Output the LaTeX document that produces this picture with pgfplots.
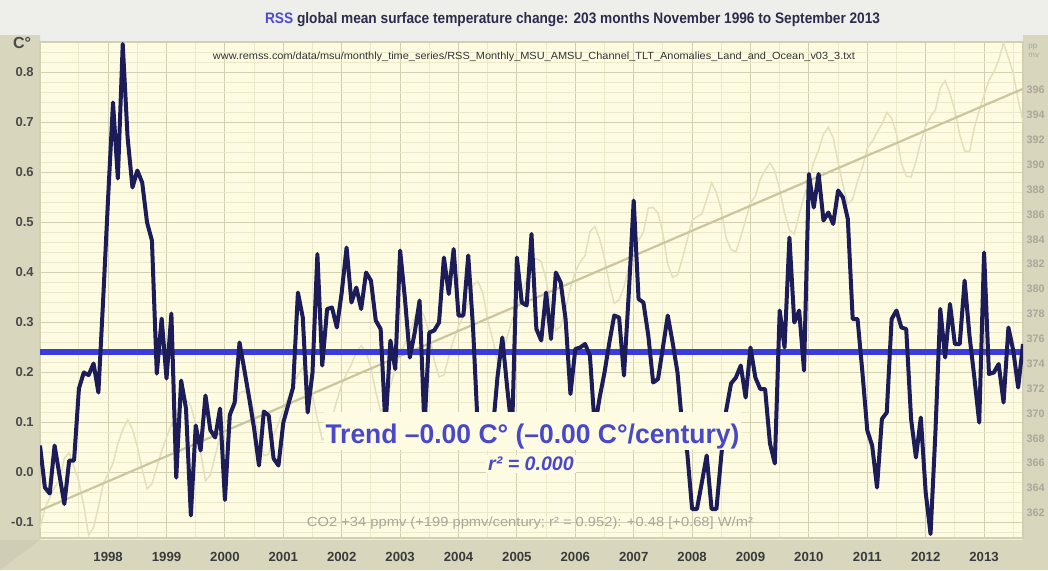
\documentclass[border=0pt]{standalone}
\usepackage{pgfplots}
\pgfplotsset{compat=1.18}
\usepackage{pgfplotstable}
\usepackage{graphicx}
\usepackage{fontspec}
\setmainfont{Liberation Sans}
\definecolor{outerbg}{HTML}{EEEEEA}
\definecolor{strip}{HTML}{D9D6BE}
\definecolor{plotbg}{HTML}{FDFCE2}
\definecolor{gridmaj}{HTML}{D3D0B2}
\definecolor{gridmin}{HTML}{ECE9CA}
\definecolor{navy}{HTML}{1C1C58}
\definecolor{trendblue}{HTML}{3C3CDA}
\definecolor{textblue}{HTML}{4848C8}
\definecolor{rssblue}{HTML}{4C4CD0}
\definecolor{titlec}{HTML}{2C2C4C}
\definecolor{co2trend}{HTML}{CBC6A0}
\definecolor{co2line}{HTML}{E3E0BE}
\definecolor{co2text}{HTML}{A8A79A}
\definecolor{ticklab}{HTML}{4A4A4A}

\pgfplotstableread{
i v
0 0.054
1 -0.030
2 -0.042
3 0.054
4 -0.005
5 -0.063
6 0.024
7 0.024
8 0.168
9 0.200
10 0.195
11 0.218
12 0.160
13 0.350
14 0.550
15 0.740
16 0.588
17 0.857
18 0.670
19 0.570
20 0.604
21 0.580
22 0.500
23 0.464
24 0.198
25 0.308
26 0.188
27 0.318
28 -0.010
29 0.184
30 0.128
31 -0.086
32 0.094
33 0.044
34 0.154
35 0.085
36 0.070
37 0.128
38 -0.055
39 0.115
40 0.140
41 0.260
42 0.205
43 0.148
44 0.088
45 0.014
46 0.122
47 0.114
48 0.028
49 0.014
50 0.100
51 0.135
52 0.170
53 0.360
54 0.310
55 0.120
56 0.200
57 0.437
58 0.214
59 0.327
60 0.330
61 0.290
62 0.360
63 0.450
64 0.340
65 0.370
66 0.327
67 0.400
68 0.384
69 0.304
70 0.287
71 0.090
72 0.264
73 0.207
74 0.444
75 0.347
76 0.230
77 0.280
78 0.344
79 0.090
80 0.280
81 0.284
82 0.300
83 0.430
84 0.357
85 0.447
86 0.314
87 0.314
88 0.434
89 0.287
90 0.080
91 0.060
92 0.070
93 0.080
94 0.190
95 0.270
96 0.170
97 0.080
98 0.430
99 0.340
100 0.334
101 0.477
102 0.287
103 0.264
104 0.360
105 0.267
106 0.400
107 0.380
108 0.307
109 0.157
110 0.247
111 0.250
112 0.257
113 0.234
114 0.090
115 0.150
116 0.200
117 0.260
118 0.314
119 0.310
120 0.194
121 0.360
122 0.544
123 0.347
124 0.340
125 0.274
126 0.180
127 0.187
128 0.250
129 0.314
130 0.260
131 0.200
132 0.090
133 0.040
134 -0.073
135 -0.073
136 -0.020
137 0.034
138 -0.073
139 -0.073
140 0.034
141 0.124
142 0.178
143 0.190
144 0.214
145 0.150
146 0.250
147 0.190
148 0.167
149 0.167
150 0.058
151 0.018
152 0.324
153 0.250
154 0.470
155 0.300
156 0.324
157 0.204
158 0.597
159 0.530
160 0.597
161 0.504
162 0.520
163 0.497
164 0.564
165 0.550
166 0.507
167 0.307
168 0.307
169 0.200
170 0.084
171 0.054
172 -0.030
173 0.107
174 0.120
175 0.307
176 0.324
177 0.290
178 0.287
179 0.107
180 0.030
181 0.110
182 -0.040
183 -0.123
184 0.080
185 0.327
186 0.230
187 0.337
188 0.257
189 0.257
190 0.384
191 0.274
192 0.190
193 0.100
194 0.440
195 0.197
196 0.200
197 0.217
198 0.140
199 0.290
200 0.244
201 0.170
202 0.257
}\rss

\pgfplotstableread{
i c
0 360.80
1 362.38
2 363.23
3 364.06
4 364.61
5 366.40
6 366.84
7 365.68
8 364.52
9 362.57
10 360.24
11 360.83
12 362.49
13 364.34
14 365.16
15 365.98
16 367.56
17 368.69
18 369.49
19 368.74
20 367.32
21 365.52
22 363.93
23 364.34
24 365.64
25 366.98
26 368.06
27 369.11
28 369.73
29 370.85
30 371.13
31 370.59
32 369.17
33 366.92
34 364.58
35 365.04
36 366.61
37 368.14
38 369.19
39 369.75
40 370.52
41 371.66
42 371.79
43 371.51
44 370.11
45 368.07
46 366.62
47 366.73
48 368.23
49 369.20
50 370.32
51 371.29
52 372.23
53 373.11
54 373.73
55 373.09
56 371.47
57 369.56
58 367.89
59 368.12
60 369.56
61 371.03
62 372.32
63 373.20
64 373.95
65 374.97
66 375.44
67 374.91
68 373.71
69 371.71
70 370.20
71 370.60
72 372.20
73 373.65
74 374.87
75 375.62
76 376.48
77 377.74
78 378.47
79 377.76
80 376.45
81 374.29
82 372.94
83 373.10
84 374.59
85 375.92
86 377.00
87 377.87
88 378.88
89 380.35
90 380.62
91 379.69
92 377.47
93 376.01
94 374.25
95 374.46
96 376.16
97 377.51
98 378.46
99 379.73
100 380.77
101 382.29
102 382.45
103 382.21
104 380.74
105 378.74
106 376.70
107 377.00
108 378.35
109 380.11
110 381.38
111 382.19
112 382.67
113 384.61
114 385.03
115 384.05
116 382.46
117 380.41
118 378.85
119 379.13
120 380.15
121 381.82
122 382.89
123 383.90
124 384.58
125 386.50
126 386.56
127 386.10
128 384.50
129 381.99
130 380.96
131 381.12
132 382.45
133 383.95
134 385.52
135 385.82
136 386.03
137 387.21
138 388.54
139 387.76
140 386.36
141 384.09
142 383.18
143 382.99
144 384.19
145 385.56
146 386.94
147 387.48
148 388.82
149 389.55
150 390.14
151 389.48
152 388.03
153 386.11
154 384.74
155 384.43
156 386.02
157 387.42
158 388.71
159 390.20
160 391.17
161 392.46
162 393.00
163 392.15
164 390.20
165 388.35
166 386.85
167 387.24
168 388.67
169 389.79
170 391.33
171 391.86
172 392.60
173 393.25
174 394.19
175 393.74
176 392.51
177 390.13
178 389.08
179 389.00
180 390.28
181 391.86
182 393.12
183 393.86
184 394.40
185 396.18
186 396.74
187 395.71
188 394.36
189 392.39
190 391.11
191 391.05
192 392.98
193 394.34
194 395.55
195 396.80
196 397.43
197 398.41
198 399.78
199 398.60
200 397.32
201 395.20
202 393.45
}\cotwo

\pgfplotsset{
  base/.style={
    at={(20pt,16pt)}, anchor=south west,
    width=491.5pt, height=248pt, scale only axis,
    xmin=0, xmax=202,
  },
  tempy/.style={ymin=-0.131, ymax=0.861},
}

\begin{document}
\begin{tikzpicture}
\useasboundingbox (0,0) rectangle (524pt,285pt);
% outer frame
\fill[outerbg] (0,0) rectangle (524pt,285pt);
\fill[strip] (0,0) -- (524pt,0) -- (524pt,267.5pt) -- (511.5pt,267.5pt) -- (511.5pt,15pt) -- (20pt,15pt) -- (20pt,267.5pt) -- (0,267.5pt) -- cycle;
\fill[strip!85!black,opacity=0.25] (0,0) -- (20pt,15pt) -- (0,15pt) -- cycle;

% axis 1: background, grid and tick labels
\begin{axis}[base, tempy,
  axis background/.style={fill=plotbg},
  axis line style={draw=gridmaj, line width=0.6pt},
  xtick={14,26,38,50,62,74,86,98,110,122,134,146,158,170,182,194},
  xticklabels={1998,1999,2000,2001,2002,2003,2004,2005,2006,2007,2008,2009,2010,2011,2012,2013},
  minor xtick={8,20,32,44,56,68,80,92,104,116,128,140,152,164,176,188,200},
  ytick={-0.1,0,0.1,0.2,0.3,0.4,0.5,0.6,0.7,0.8},
  yticklabels={-0.1,0.0,0.1,0.2,0.3,0.4,0.5,0.6,0.7,0.8},
  minor ytick={-0.12,-0.08,-0.06,-0.04,-0.02,0.02,0.04,0.06,0.08,0.12,0.14,0.16,0.18,0.22,0.24,0.26,0.28,0.32,0.34,0.36,0.38,0.42,0.44,0.46,0.48,0.52,0.54,0.56,0.58,0.62,0.64,0.66,0.68,0.72,0.74,0.76,0.78,0.82,0.84},
  grid=both,
  major grid style={draw=gridmaj, line width=0.55pt},
  minor grid style={draw=gridmin, line width=0.45pt},
  major tick length=0pt, minor tick length=0pt,
  xticklabel style={font=\bfseries\fontsize{6.6}{7}\selectfont, text=ticklab!80!black, anchor=center, inner sep=0pt, yshift=-9.5pt},
  yticklabel style={font=\bfseries\fontsize{6.5}{7}\selectfont, text=ticklab, anchor=east, inner sep=0pt, xshift=-3pt},
]
\addplot[draw=none] coordinates {(0,0)};
\end{axis}

% axis 2: CO2 on right axis
\begin{axis}[base,
  ymin=359.99, ymax=399.86,
  axis y line*=right, axis x line=none,
  axis line style={draw=none},
  ytick={362,364,...,396},
  major tick length=0pt,
  yticklabel style={font=\bfseries\fontsize{5.4}{6}\selectfont, text=co2text, anchor=west, inner sep=0pt, xshift=1.6pt},
  /pgf/number format/assume math mode=true,
  clip=true,
]
\addplot[co2line, line width=0.75pt] table[x=i, y=c] {\cotwo};
\addplot[co2trend, line width=1.1pt] coordinates {(0,362.2) (202,396.1)};
\end{axis}

% axis 3: temperature series
\begin{axis}[base, tempy,
  axis lines=none, ticks=none, clip=true,
]
\addplot[trendblue, line width=3.2pt] coordinates {(0,0.241) (202,0.241)};
\addplot[navy, line width=2pt, line join=round] table[x=i, y=v] {\rss};
\end{axis}

% boxes and annotations
\fill[plotbg] (162pt,60pt) rectangle (370.5pt,79pt);
\node[anchor=base, inner sep=0pt, text=textblue, font=\bfseries\fontsize{13.5}{15}\selectfont] at (266.25pt,63.3pt)
  {\resizebox{207pt}{\height}{Trend –0.00 C° (–0.00 C°/century)}};
\node[inner sep=1pt, fill=plotbg, text=textblue, font=\bfseries\itshape\fontsize{9.8}{11}\selectfont] at (265.5pt,53pt)
  {r² = 0.000};
\node[inner sep=0pt, text=co2text, font=\fontsize{6.6}{7}\selectfont] at (265pt,23.5pt)
  {\resizebox{223pt}{\height}{CO2 +34 ppmv (+199 ppmv/century; r² = 0.952): +0.48 [+0.68] W/m²}};
\node[inner sep=0pt, text=black!80, font=\fontsize{5.2}{6}\selectfont] at (267pt,256.5pt)
  {\resizebox{321pt}{\height}{www.remss.com/data/msu/monthly\_time\_series/RSS\_Monthly\_MSU\_AMSU\_Channel\_TLT\_Anomalies\_Land\_and\_Ocean\_v03\_3.txt}};
\node[inner sep=0pt, text=titlec, font=\bfseries\fontsize{7.6}{9}\selectfont] at (286.3pt,275.2pt)
  {\resizebox{307.5pt}{\height}{\textcolor{rssblue}{RSS} global mean surface temperature change: 203 months November 1996 to September 2013}};
\node[inner sep=0pt, text=ticklab, font=\bfseries\fontsize{8}{9}\selectfont] at (11pt,263.5pt) {C°};
\node[inner sep=0pt, anchor=west, text=co2text, font=\fontsize{4}{4.5}\selectfont, align=left] at (514pt,259.5pt) {pp\\mv};
\end{tikzpicture}
\end{document}
